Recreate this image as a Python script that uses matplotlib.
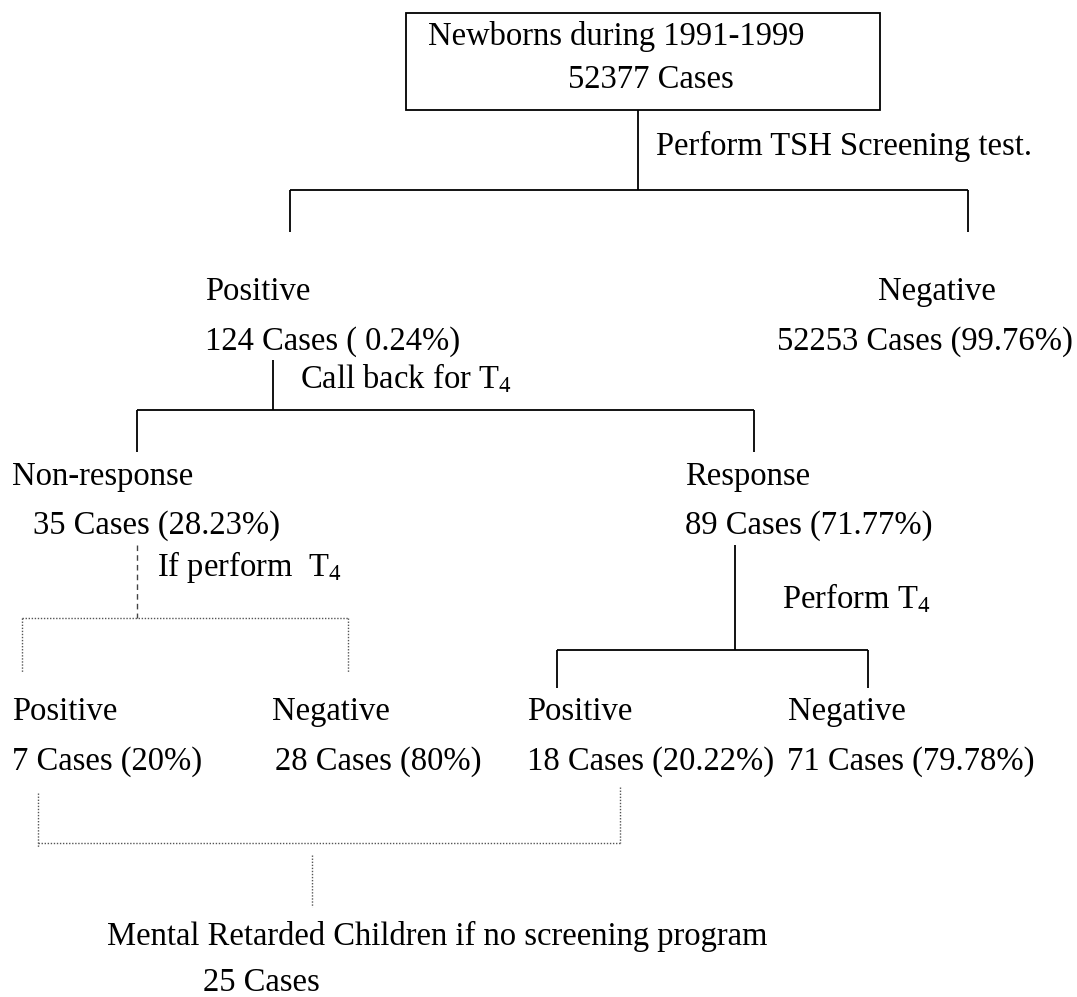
"""
Flowchart: TSH screening of newborns 1991-1999.
"""

import matplotlib
matplotlib.use("Agg")
import matplotlib.pyplot as plt
from matplotlib.patches import Rectangle

plt.rcParams['font.family'] = ['Liberation Serif', 'DejaVu Serif']
plt.rcParams['mathtext.fontset'] = 'custom'
plt.rcParams['mathtext.rm'] = 'Liberation Serif'
plt.rcParams['mathtext.it'] = 'Liberation Serif:italic'

# texts of the chart
titulo_caja = ["Newborns during 1991-1999", "52377 Cases"]
pasos = ["Perform TSH Screening test.", r"Call back for T$_{\mathrm{4}}$",
         r"If perform  T$_{\mathrm{4}}$", r"Perform T$_{\mathrm{4}}$"]
etiquetas = ["Positive", "Negative", "Non-response", "Response",
             "Positive", "Negative", "Positive", "Negative"]
casos = ["124 Cases ( 0.24%)", "52253 Cases (99.76%)",
         "35 Cases (28.23%)", "89 Cases (71.77%)",
         "7 Cases (20%)", "28 Cases (80%)",
         "18 Cases (20.22%)", "71 Cases (79.78%)"]
final = ["Mental Retarded Children if no screening program", "25 Cases"]

# layout (pixel coordinates)
pos_etiquetas = [(205, 292), (878, 292), (12, 477), (685, 477),
                 (12, 712), (272, 712), (527, 712), (788, 712)]
pos_casos = [(205, 342), (777, 342), (33, 526), (685, 526),
             (12, 762), (275, 762), (527, 762), (787, 762)]
pos_pasos = [(656, 146), (300, 378), (157, 567), (782, 598)]

FS = 23.5

fig = plt.figure(figsize=(10.77, 9.97), dpi=100)
ax = fig.add_axes([0, 0, 1, 1])
ax.set_xlim(0, 1077)
ax.set_ylim(997, 0)
ax.set_axis_off()

solido = dict(color='black', lw=1.3, solid_capstyle='butt')
punteado = dict(color='#555555', lw=1.0, linestyle=(0, (1, 1.2)))


def linea(xs, ys, estilo):
    ax.plot(xs, ys, **estilo)


# top box
ax.add_patch(Rectangle((406, 13), 474, 97, fill=False, edgecolor='black', lw=1.3))
ax.text(428, 36, titulo_caja[0], fontsize=FS, va='center', ha='left')
ax.text(568, 80, titulo_caja[1], fontsize=FS, va='center', ha='left')

# level 1
linea([638, 638], [110, 190], solido)
linea([290, 968], [190, 190], solido)
linea([290, 290], [190, 232], solido)
linea([968, 968], [190, 232], solido)

# level 2
linea([273, 273], [360, 410], solido)
linea([137, 754], [410, 410], solido)
linea([137, 137], [410, 452], solido)
linea([754, 754], [410, 452], solido)

# non-response branch (hypothetical)
linea([137, 137], [545, 618], dict(color='#444444', lw=1.0, linestyle=(0, (4, 3))))
linea([22, 348], [618, 618], punteado)
linea([22, 22], [618, 672], punteado)
linea([348, 348], [618, 672], punteado)

# response branch
linea([735, 735], [545, 650], solido)
linea([557, 868], [650, 650], solido)
linea([557, 557], [650, 688], solido)
linea([868, 868], [650, 688], solido)

# positives joined
linea([38, 38], [793, 848], punteado)
linea([620, 620], [787, 843], punteado)
linea([38, 620], [843, 843], punteado)
linea([312, 312], [855, 907], punteado)

for texto, (x, y) in zip(etiquetas, pos_etiquetas):
    ax.text(x, y, texto, fontsize=FS, va='center', ha='left')
for texto, (x, y) in zip(casos, pos_casos):
    ax.text(x, y, texto, fontsize=FS, va='center', ha='left')
for texto, (x, y) in zip(pasos, pos_pasos):
    ax.text(x, y, texto, fontsize=FS, va='center', ha='left')

ax.text(107, 936, final[0], fontsize=FS, va='center', ha='left')
ax.text(203, 983, final[1], fontsize=FS, va='center', ha='left')

fig.savefig("out.png", dpi=100, facecolor='white')
